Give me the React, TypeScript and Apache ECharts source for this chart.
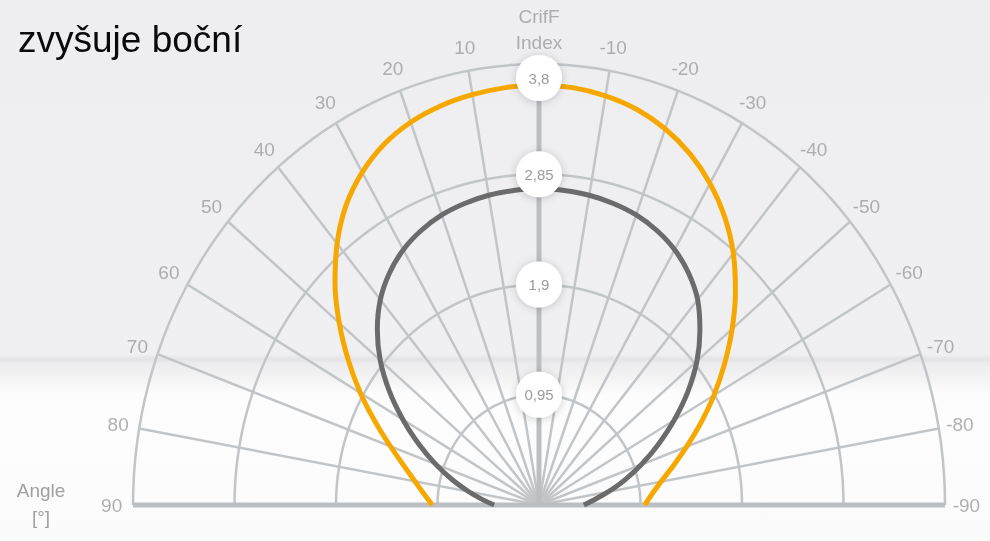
import React, { useEffect, useRef } from "react";
import * as echarts from "echarts";

// Angle ticks (degrees): positive on the left, negative on the right
const angleTicks = [90, 80, 70, 60, 50, 40, 30, 20, 10, 0, -10, -20, -30, -40, -50, -60, -70, -80, -90];
// Radial (CrifF Index) rings
const ringValues = [0.95, 1.9, 2.85, 3.8];
// Curve sample angles (left half 90..0, right half -5..-90) and values
const curveAngles = [
  90, 85, 80, 75, 70, 65, 60, 55, 50, 45, 40, 35, 30, 25, 20, 15, 10, 5, 0,
  -5, -10, -15, -20, -25, -30, -35, -40, -45, -50, -55, -60, -65, -70, -75, -80, -85, -90,
];
const orangeValues = [
  1.0, 1.08, 1.18, 1.31, 1.48, 1.69, 1.93, 2.18, 2.44, 2.7, 2.94, 3.15, 3.31, 3.43, 3.51, 3.56, 3.59, 3.61, 3.62,
  3.61, 3.58, 3.53, 3.45, 3.34, 3.2, 3.03, 2.83, 2.6, 2.36, 2.12, 1.89, 1.67, 1.47, 1.3, 1.16, 1.06, 0.99,
];
const grayValues = [
  0.42, 0.53, 0.67, 0.84, 1.03, 1.24, 1.47, 1.71, 1.94, 2.14, 2.31, 2.44, 2.54, 2.61, 2.66, 2.69, 2.71, 2.72, 2.73,
  2.72, 2.71, 2.69, 2.66, 2.61, 2.54, 2.44, 2.31, 2.13, 1.93, 1.7, 1.46, 1.23, 1.02, 0.83, 0.66, 0.52, 0.42,
];

const titleText = "zvyšuje boční";
const radialAxisName = "CrifF\nIndex";
const angleAxisName = "Angle\n[°]";

const FONT = '"Liberation Sans", Arial, Helvetica, sans-serif';

export default function App() {
  const ref = useRef<HTMLDivElement>(null);

  useEffect(() => {
    if (!ref.current) return;
    const chart = echarts.init(ref.current, null, { renderer: "svg" });
    const rad = (d: number) => (d * Math.PI) / 180;
    const toXY = (a: number, r: number) => [-r * Math.sin(rad(a)), r * Math.cos(rad(a))];
    const maxR = ringValues[ringValues.length - 1];
    const gridColor = "#c2c5c8";

    const arcAngles: number[] = [];
    for (let a = -90; a <= 90; a += 2) arcAngles.push(a);

    const baseLine = {
      type: "line",
      symbol: "none",
      silent: true,
      animation: false,
      clip: false,
      z: 1,
    };

    const ringSeries = ringValues.map((v) => ({
      ...baseLine,
      data: arcAngles.map((a) => toXY(a, v)),
      lineStyle: { color: gridColor, width: 2.5 },
    }));

    const spokeSeries = angleTicks
      .filter((a) => Math.abs(a) !== 90 && a !== 0)
      .map((a) => ({
        ...baseLine,
        data: [
          [0, 0],
          toXY(a, maxR),
        ],
        lineStyle: { color: gridColor, width: 2.5 },
      }));

    const zeroSpoke = {
      ...baseLine,
      z: 2,
      data: [
        [0, 0],
        [0, maxR],
      ],
      lineStyle: { color: "#bcbfc2", width: 5 },
    };
    const baseAxis = {
      ...baseLine,
      z: 2,
      data: [
        [-maxR, 0],
        [maxR, 0],
      ],
      lineStyle: { color: "#bcbfc2", width: 5 },
    };

    const curve = (vals: number[], color: string) => ({
      type: "line",
      symbol: "none",
      smooth: 0.4,
      clip: false,
      z: 5,
      silent: true,
      data: curveAngles.map((a, i) => toXY(a, vals[i])),
      lineStyle: { color, width: 5 },
    });

    const option: any = {
      animation: false,
      grid: { left: 133, right: 45, top: 64, bottom: 36 },
      xAxis: { type: "value", min: -maxR, max: maxR, show: false },
      yAxis: { type: "value", min: 0, max: maxR, show: false },
      graphic: [
        {
          type: "rect",
          z: -100,
          silent: true,
          shape: { x: 0, y: 0, width: 990, height: 541 },
          style: {
            fill: new echarts.graphic.LinearGradient(0, 0, 0, 1, [
              { offset: 0, color: "#eeeef1" },
              { offset: 0.655, color: "#f0f0f2" },
              { offset: 0.664, color: "#e4e4e6" },
              { offset: 0.672, color: "#ececee" },
              { offset: 0.7, color: "#f3f3f4" },
              { offset: 0.73, color: "#fdfdfd" },
              { offset: 1, color: "#fbfbfb" },
            ]),
          },
        },
        {
          type: "text",
          z: 100,
          left: 18,
          top: 21,
          style: { text: titleText, font: `37px ${FONT}`, fill: "#0a0a0a" },
        },
        {
          type: "text",
          z: 100,
          x: 41,
          y: 504,
          style: {
            text: angleAxisName,
            font: `19px ${FONT}`,
            fill: "#a0a0a0",
            align: "center",
            verticalAlign: "middle",
            lineHeight: 27,
          },
        },
      ],
      series: [
        ...ringSeries,
        ...spokeSeries,
        zeroSpoke,
        baseAxis,
        curve(grayValues, "#6b6b6b"),
        curve(orangeValues, "#f6a800"),
        {
          type: "scatter",
          clip: false,
          silent: true,
          z: 10,
          symbolSize: 0,
          data: angleTicks
            .filter((a) => a !== 0)
            .map((a) => ({ value: toXY(a, 4.0), name: String(a) })),
          label: {
            show: true,
            position: "inside",
            formatter: "{b}",
            color: "#9c9c9c",
            fontSize: 19,
            fontFamily: FONT,
          },
        },
        {
          type: "scatter",
          clip: false,
          silent: true,
          z: 10,
          symbolSize: 0,
          data: [{ value: [0, 4.1], name: radialAxisName }],
          label: {
            show: true,
            position: "inside",
            formatter: "{b}",
            color: "#9c9c9c",
            fontSize: 19,
            lineHeight: 26,
            fontFamily: FONT,
          },
        },
        {
          type: "scatter",
          clip: false,
          silent: true,
          z: 20,
          symbol: "circle",
          symbolSize: 46,
          data: ringValues.map((v) => ({
            value: [0, v],
            symbolOffset: v === maxR ? [0, 14] : [0, 0],
          })),
          itemStyle: {
            color: "#ffffff",
            opacity: 1,
            shadowBlur: 8,
            shadowColor: "rgba(0,0,0,0.2)",
            shadowOffsetY: 1,
          },
          label: {
            show: true,
            position: "inside",
            formatter: (p: any) => String(p.value[1]).replace(".", ","),
            color: "#9c9c9c",
            fontSize: 15,
            fontFamily: FONT,
          },
        },
      ],
    };

    chart.setOption(option);
    return () => chart.dispose();
  }, []);

  return (
    <div
      ref={ref}
      style={{ position: "fixed", left: 0, top: 0, width: 990, height: 541 }}
    />
  );
}
